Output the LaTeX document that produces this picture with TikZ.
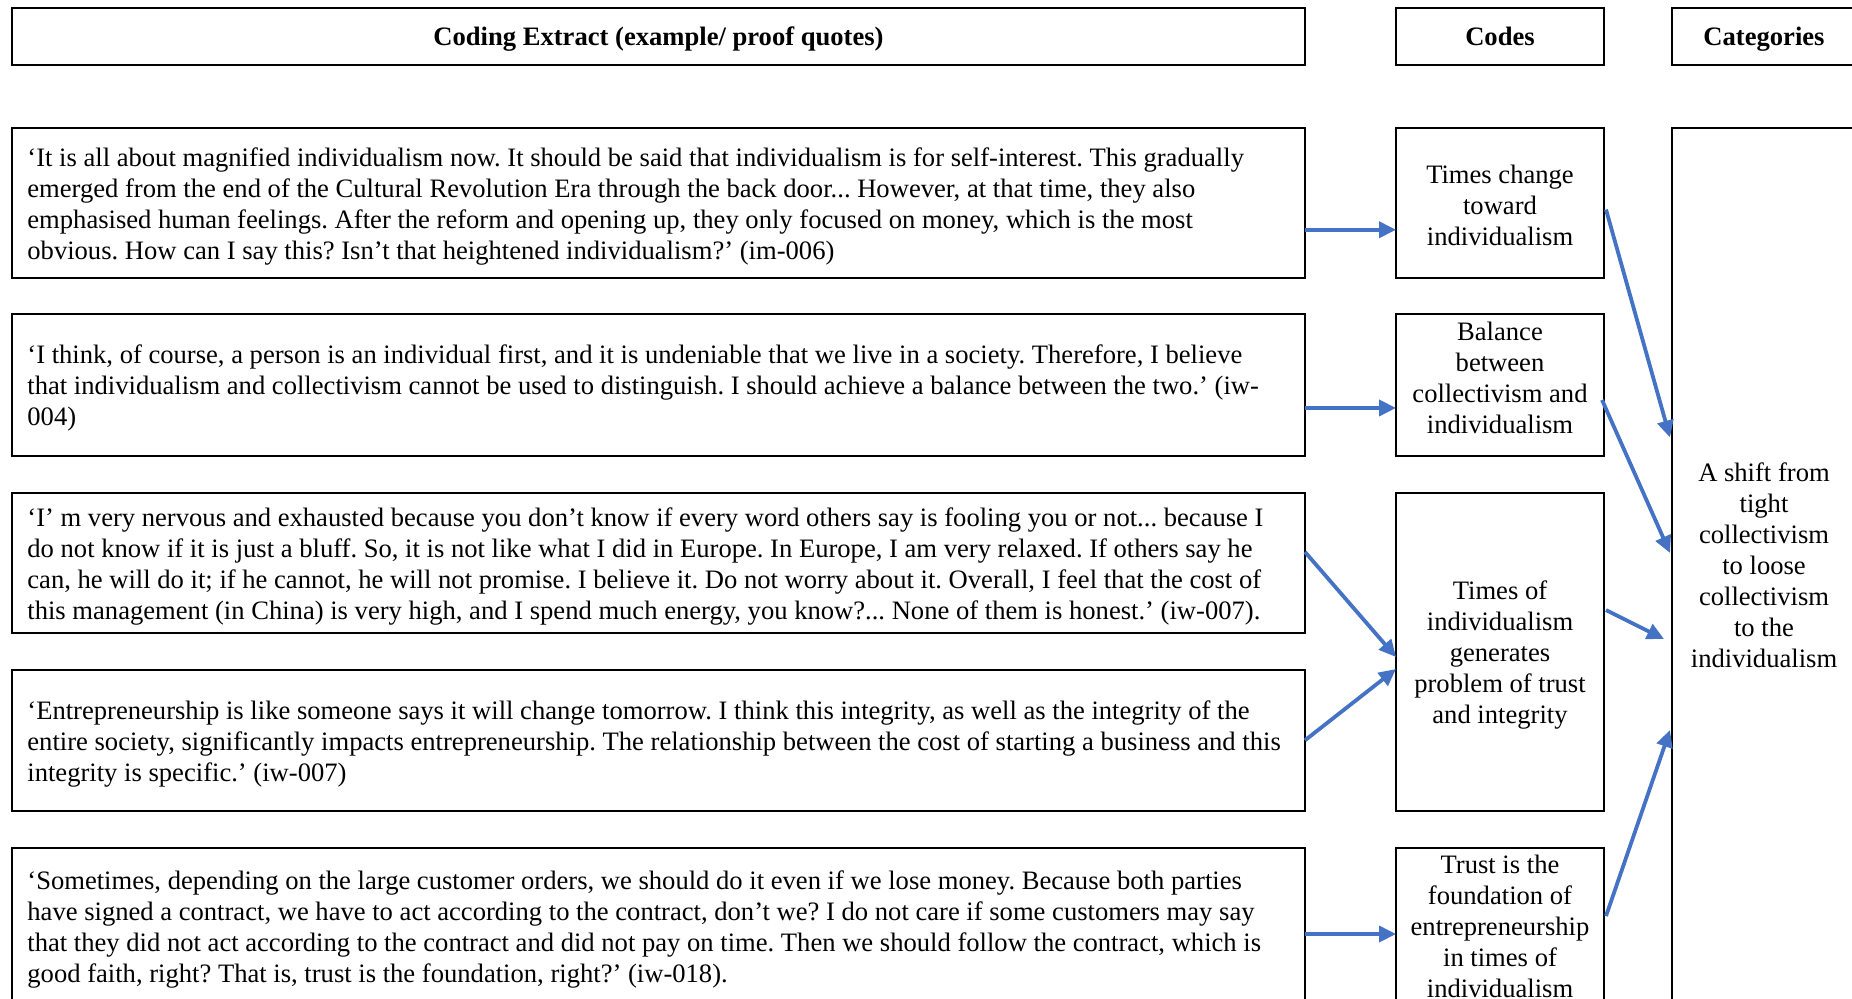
\documentclass[tikz,border=0pt]{standalone}
\usepackage{fontspec}
\setmainfont{Liberation Serif}
\usetikzlibrary{arrows.meta}
\definecolor{arrowblue}{HTML}{4472C4}
\frenchspacing
\begin{document}
\begin{tikzpicture}[x=0.5pt,y=-0.5pt,
  font=\fontsize{13.3pt}{15.5pt}\selectfont,
  box/.style={draw=black, line width=1pt, inner sep=0pt, outer sep=0pt},
  head/.style={box, font=\fontsize{13.3pt}{15.5pt}\selectfont\bfseries, text height=9.2pt, text depth=0pt},
  qbox/.style={box, minimum width=646.5pt},
  cbox/.style={box, minimum width=104pt},
  quote/.style={inner sep=0pt, anchor=west, align=left},
  ctext/.style={inner sep=0pt, align=center},
  link/.style={draw=arrowblue, line width=1.9pt, -{Triangle[length=8.5pt,width=8pt]}}
]
\path[use as bounding box, clip] (0,0) rectangle (1852,998);

% column headers
\node[head, minimum width=646.5pt, minimum height=28.5pt] (e0) at (658.5,36.5) {Coding Extract (example/ proof quotes)};
\node[head, minimum width=104pt, minimum height=28.5pt] (c0) at (1500,36.5) {Codes};
\node[head, minimum width=92pt, minimum height=28.5pt] (k0) at (1764,36.5) {Categories};

% quote boxes
\node[qbox, minimum height=74.75pt] (e1) at (658.5,202.75) {};
\node[qbox, minimum height=70.75pt] (e2) at (658.5,384.75) {};
\node[qbox, minimum height=70.25pt] (e3) at (658.5,562.75) {};
\node[qbox, minimum height=70.25pt] (e4) at (658.5,740.25) {};
\node[qbox, minimum height=77.5pt] (e5) at (658.5,925.5) {};

\node[quote] (e1t) at ([xshift=7.5pt,yshift=-1.75pt]e1.west) {‘It is all about magnified individualism now. It should be said that individualism is for self-interest. This gradually\\
emerged from the end of the Cultural Revolution Era through the back door... However, at that time, they also\\
emphasised human feelings. After the reform and opening up, they only focused on money, which is the most\\
obvious. How can I say this? Isn’t that heightened individualism?’ (im-006)};

\node[quote] (e2t) at ([xshift=7.5pt,yshift=-1.75pt]e2.west) {‘I think, of course, a person is an individual first, and it is undeniable that we live in a society. Therefore, I believe\\
that individualism and collectivism cannot be used to distinguish. I should achieve a balance between the two.’ (iw-\\
004)};

\node[quote] (e3t) at ([xshift=7.5pt,yshift=-1.75pt]e3.west) {‘I’ m very nervous and exhausted because you don’t know if every word others say is fooling you or not... because I\\
do not know if it is just a bluff. So, it is not like what I did in Europe. In Europe, I am very relaxed. If others say he\\
can, he will do it; if he cannot, he will not promise. I believe it. Do not worry about it. Overall, I feel that the cost of\\
this management (in China) is very high, and I spend much energy, you know?... None of them is honest.’ (iw-007).};

\node[quote] (e4t) at ([xshift=7.5pt,yshift=-1.75pt]e4.west) {‘Entrepreneurship is like someone says it will change tomorrow. I think this integrity, as well as the integrity of the\\
entire society, significantly impacts entrepreneurship. The relationship between the cost of starting a business and this\\
integrity is specific.’ (iw-007)};

\node[quote] (e5t) at ([xshift=7.5pt,yshift=-1.75pt]e5.west) {‘Sometimes, depending on the large customer orders, we should do it even if we lose money. Because both parties\\
have signed a contract, we have to act according to the contract, don’t we? I do not care if some customers may say\\
that they did not act according to the contract and did not pay on time. Then we should follow the contract, which is\\
good faith, right? That is, trust is the foundation, right?’ (iw-018).};

% code boxes
\node[cbox, minimum height=74.75pt] (c1) at (1500,202.75) {};
\node[cbox, minimum height=70.75pt] (c2) at (1500,384.75) {};
\node[cbox, minimum height=159pt] (c3) at (1500,651.5) {};
\node[cbox, minimum height=77.5pt] (c4) at (1500,925.5) {};
\node[ctext] (c1t) at ([yshift=-1.2pt]c1.center) {Times change\\toward\\individualism};
\node[ctext] (c2t) at ([yshift=3.5pt]c2.center) {Balance\\between\\collectivism and\\individualism};
\node[ctext] (c3t) at ([yshift=-1.75pt]c3.center) {Times of\\individualism\\generates\\problem of trust\\and integrity};
\node[ctext] (c4t) at ([yshift=-0.6pt]c4.center) {Trust is the\\foundation of\\entrepreneurship\\in times of\\individualism};

% category box
\node[box, minimum width=92pt, minimum height=437.5pt, align=center] (k1) at (1764,565.5) {A shift from\\tight\\collectivism\\to loose\\collectivism\\to the\\individualism};

% quotes to codes
\draw[link] ([yshift=-13.5pt]e1.east) -- ([yshift=-13.5pt]c1.west);
\draw[link] ([yshift=-11.6pt]e2.east) -- ([yshift=-11.6pt]c2.west);
\draw[link] ([yshift=5.4pt]e3.east) -- ([yshift=-2.75pt]c3.west);
\draw[link] (e4.east) -- ([yshift=-8.75pt]c3.west);
\draw[link] ([yshift=-4.25pt]e5.east) -- ([yshift=-4.25pt]c4.west);

% codes to category
\draw[link] ([xshift=1pt,yshift=-3.4pt]c1.east) -- ([xshift=-1pt,yshift=64pt]k1.west);
\draw[link] ([xshift=-1pt,yshift=-7.6pt]c2.east) -- ([xshift=-1pt,yshift=6.25pt]k1.west);
\draw[link] ([xshift=1pt,yshift=20.75pt]c3.east) -- ([xshift=-4pt,yshift=-36.75pt]k1.west);
\draw[link] ([xshift=1pt,yshift=4.75pt]c4.east) -- ([xshift=-1pt,yshift=-82.25pt]k1.west);
\end{tikzpicture}
\end{document}
